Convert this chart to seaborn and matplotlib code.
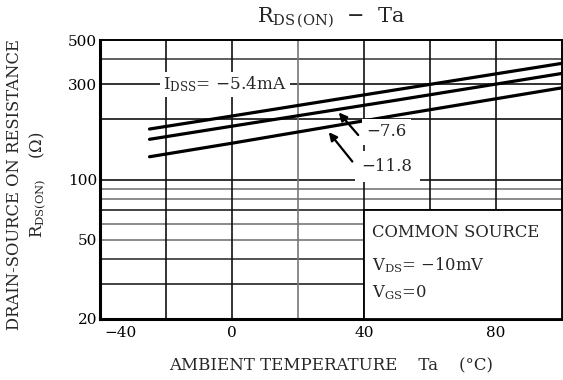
import matplotlib
matplotlib.use("Agg")
import matplotlib.pyplot as plt
import matplotlib.transforms as mtransforms
import seaborn as sns
import pandas as pd
from matplotlib.patches import Rectangle

# ---- data ----
temps = [-25, 0, 50, 100]
r_54 = [179, 208, 282, 382]
r_76 = [159, 185, 250, 340]
r_118 = [130, 152, 210, 288]
series_names = ["-5.4mA", "-7.6", "-11.8"]
x_ticks = [-40, 0, 40, 80]
y_ticks = [20, 50, 100, 300, 500]

df = pd.concat([
    pd.DataFrame({"Ta": temps, "R": r_54, "Idss": series_names[0]}),
    pd.DataFrame({"Ta": temps, "R": r_76, "Idss": series_names[1]}),
    pd.DataFrame({"Ta": temps, "R": r_118, "Idss": series_names[2]}),
])

sns.set_theme(style="white")
plt.rcParams["font.family"] = ["DejaVu Serif"]
plt.rcParams["mathtext.fontset"] = "dejavuserif"

fig = plt.figure(figsize=(5.63, 3.80), dpi=100)
ax = fig.add_axes([100/563, 1-319/380, 462/563, 279/380])

ax.set_yscale("log")
ax.set_xlim(-40, 100)
ax.set_ylim(20, 500)

# grid lines
hgrid = [(30, "#222"), (40, "#333"), (50, "#777"), (60, "#777"), (70, "#222"),
         (80, "#777"), (90, "#777"), (100, "#111"), (200, "#111"), (300, "#111"), (400, "#444")]
for v, c in hgrid:
    ax.axhline(v, color=c, lw=1.2, zorder=1)
vgrid = [(-20, "#111"), (0, "#111"), (20, "#777"), (40, "#111"), (60, "#111"), (80, "#111")]
for v, c in vgrid:
    ax.axvline(v, color=c, lw=1.2, zorder=1)

sns.lineplot(data=df, x="Ta", y="R", hue="Idss", palette=["black"] * 3,
             linewidth=2.3, legend=False, ax=ax, zorder=5)

# Common source box
ax.add_patch(Rectangle((40, 20), 60, 50, facecolor="white", edgecolor="black",
                       lw=1.3, zorder=3))
ax.text(42.5, 54, "COMMON SOURCE", fontsize=11.8, va="center", ha="left", zorder=6)
ax.text(42.5, 37.3, r"V$_{\rm DS}$= −10mV", fontsize=11.8, va="center", ha="left", zorder=6)
ax.text(42.5, 27.0, r"V$_{\rm GS}$=0", fontsize=11.8, va="center", ha="left", zorder=6)

# curve labels
ax.text(-2.1, 300, r"I$_{\rm DSS}$= −5.4mA", fontsize=12.2, va="center", ha="center",
        zorder=6, bbox=dict(facecolor="white", edgecolor="none", pad=2))
ax.text(46.9, 173, "−7.6", fontsize=12, va="center", ha="center", zorder=6,
        bbox=dict(facecolor="white", edgecolor="none", pad=3))
ax.text(47, 116, "−11.8", fontsize=12, va="center", ha="center", zorder=6,
        bbox=dict(facecolor="white", edgecolor="none", pad=5))
arrowprops = dict(arrowstyle="-|>", color="black", lw=1.6, mutation_scale=12)
ax.annotate("", xy=(31.8, 222), xytext=(38.8, 163), arrowprops=arrowprops, zorder=7)
ax.annotate("", xy=(28.8, 177), xytext=(37.0, 120), arrowprops=arrowprops, zorder=7)

# ticks
ax.set_xticks(x_ticks)
ax.set_xticklabels(["−40" if t < 0 else str(t) for t in x_ticks])
ax.set_yticks(y_ticks)
ax.set_yticklabels([str(t) for t in y_ticks])
ax.minorticks_off()
ax.tick_params(axis="both", length=0, labelsize=11, colors="black")
ax.tick_params(axis="x", pad=5)
ax.tick_params(axis="y", pad=2)
first = ax.xaxis.get_majorticklabels()[0]
first.set_transform(first.get_transform()
                    + mtransforms.ScaledTranslation(0.21, 0, fig.dpi_scale_trans))

for s in ax.spines.values():
    s.set_color("black")
    s.set_linewidth(1.4)
ax.spines["left"].set_linewidth(2.2)
ax.spines["bottom"].set_linewidth(2.2)

ax.set_xlabel("")
ax.set_ylabel("")
fig.text(331/563, 1-18/380, r"R$_{\rm DS\,(ON)}$  −  Ta", fontsize=15, ha="center", va="center")
fig.text(331/563, 1-366/380, "AMBIENT TEMPERATURE    Ta    (°C)", fontsize=12,
         ha="center", va="center")
fig.text(15/563, 1-185/380, "DRAIN-SOURCE ON RESISTANCE", fontsize=11.8, rotation=90,
         ha="center", va="center")
fig.text(38/563, 1-185/380, r"R$_{\rm DS(ON)}$    ($\Omega$)", fontsize=11.8, rotation=90,
         ha="center", va="center")

fig.savefig("out.png", dpi=100, facecolor="white")
